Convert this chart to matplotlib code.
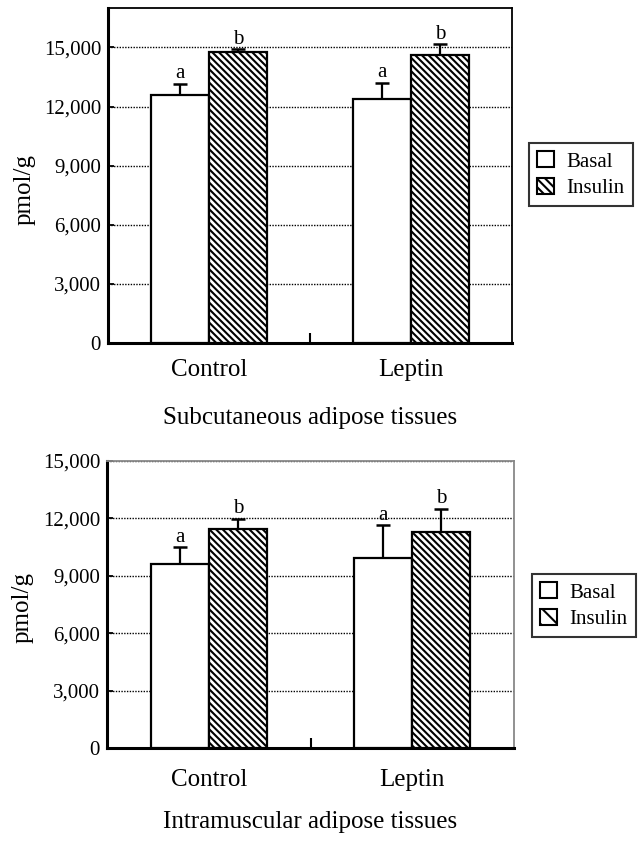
import matplotlib
matplotlib.use("Agg")
from matplotlib import pyplot as plt
from matplotlib.patches import Patch
import numpy

# data
groups = ["Control", "Leptin"]
series = ["Basal", "Insulin"]

sub_basal = [12600, 12400]
sub_basal_err = [550, 800]
sub_insulin = [14750, 14600]
sub_insulin_err = [150, 560]

intra_basal = [9600, 9950]
intra_basal_err = [900, 1700]
intra_insulin = [11450, 11300]
intra_insulin_err = [530, 1200]

letters_basal = ["a", "a"]
letters_insulin = ["b", "b"]

y_ticks = [0, 3000, 6000, 9000, 12000, 15000]
y_tick_labels = ["0", "3,000", "6,000", "9,000", "12,000", "15,000"]

titles = ["Subcutaneous adipose tissues", "Intramuscular adipose tissues"]

plt.rcParams['font.family'] = ['Liberation Serif', 'DejaVu Serif']
plt.rcParams['hatch.linewidth'] = 1.5
plt.rcParams['hatch.color'] = 'black'

W, H = 639, 846
fig = plt.figure(figsize=(W / 100, H / 100), dpi=100)


def px_axes(left, top, right, bottom):
    return fig.add_axes([left / W, 1 - bottom / H, (right - left) / W, (bottom - top) / H])


bar_w = 0.285
hatch = '\\' * 5


def upper_error(ax, x, y, err):
    top = numpy.array(y) + numpy.array(err)
    ax.vlines(x, y, top, color='black', linewidth=1.6, zorder=4)
    ax.plot(x, top, linestyle='none', marker='_', markersize=10, markeredgewidth=1.8,
            color='black', zorder=4)


def draw_panel(ax, basal, basal_err, insulin, insulin_err, ymax, gray_frame, label_pad, ylabel_y):
    x = numpy.arange(len(groups))
    xb = x - bar_w / 2
    xi = x + bar_w / 2
    ax.bar(xb, basal, bar_w, color='white', edgecolor='black', linewidth=1.6, zorder=3)
    ax.bar(xi, insulin, bar_w, color='white', edgecolor='black', linewidth=1.6,
           hatch=hatch, zorder=3)
    upper_error(ax, xb, basal, basal_err)
    upper_error(ax, xi, insulin, insulin_err)
    for i in range(len(groups)):
        ax.annotate(letters_basal[i], (xb[i], basal[i] + basal_err[i]), xytext=(0, 4),
                    textcoords='offset points', ha='center', va='baseline', fontsize=15)
        ax.annotate(letters_insulin[i], (xi[i], insulin[i] + insulin_err[i]), xytext=(0, 4),
                    textcoords='offset points', ha='center', va='baseline', fontsize=15)

    ax.set_xlim(-0.5, 1.5)
    ax.set_ylim(0, ymax)
    ax.set_yticks(y_ticks)
    ax.set_yticklabels(y_tick_labels)
    ax.set_xticks(x)
    ax.set_xticklabels(groups)
    ax.set_xticks([0.5], minor=True)
    ax.tick_params(axis='x', which='major', length=0, pad=label_pad, labelsize=18)
    ax.tick_params(axis='x', which='minor', direction='in', length=7, width=1.5)
    ax.tick_params(axis='y', direction='in', length=4, width=1.3, labelsize=15, pad=5)

    ax.set_axisbelow(True)
    ax.yaxis.grid(True, linestyle=(0, (1, 1)), color='black', linewidth=1.0)

    ax.spines['left'].set_linewidth(2.2)
    ax.spines['bottom'].set_linewidth(2.2)
    for side in ['top', 'right']:
        if gray_frame:
            ax.spines[side].set_color('#888888')
            ax.spines[side].set_linewidth(1.3)
        else:
            ax.spines[side].set_linewidth(1.3)

    ax.set_ylabel('pmol/g', fontsize=18)
    ax.yaxis.set_label_coords(-0.18, ylabel_y)


ax1 = px_axes(108, 8, 512, 343)
draw_panel(ax1, sub_basal, sub_basal_err, sub_insulin, sub_insulin_err, 17000,
           False, 11.5, 0.457)
ax2 = px_axes(107, 461, 514, 748)
draw_panel(ax2, intra_basal, intra_basal_err, intra_insulin, intra_insulin_err, 15000,
           True, 15, 0.488)

fig.text(310 / W, 1 - 424 / H, titles[0], ha='center', va='baseline', fontsize=18)
fig.text(310 / W, 1 - 828 / H, titles[1], ha='center', va='baseline', fontsize=18)

for top, left, leg_hatch in [(143, 529, '\\' * 4), (574, 532, '\\' * 2)]:
    handles = [Patch(facecolor='white', edgecolor='black', linewidth=1.5),
               Patch(facecolor='white', edgecolor='black', linewidth=1.5, hatch=leg_hatch)]
    leg = fig.legend(handles, series, loc='upper left',
                     bbox_to_anchor=(left / W, 1 - top / H), borderaxespad=0,
                     fontsize=15, frameon=True, fancybox=False, handlelength=0.8,
                     handleheight=0.8, handletextpad=0.6, borderpad=0.4,
                     labelspacing=0.3)
    leg.get_frame().set_edgecolor('black')
    leg.get_frame().set_linewidth(1.5)

plt.savefig('out.png', dpi=100)
